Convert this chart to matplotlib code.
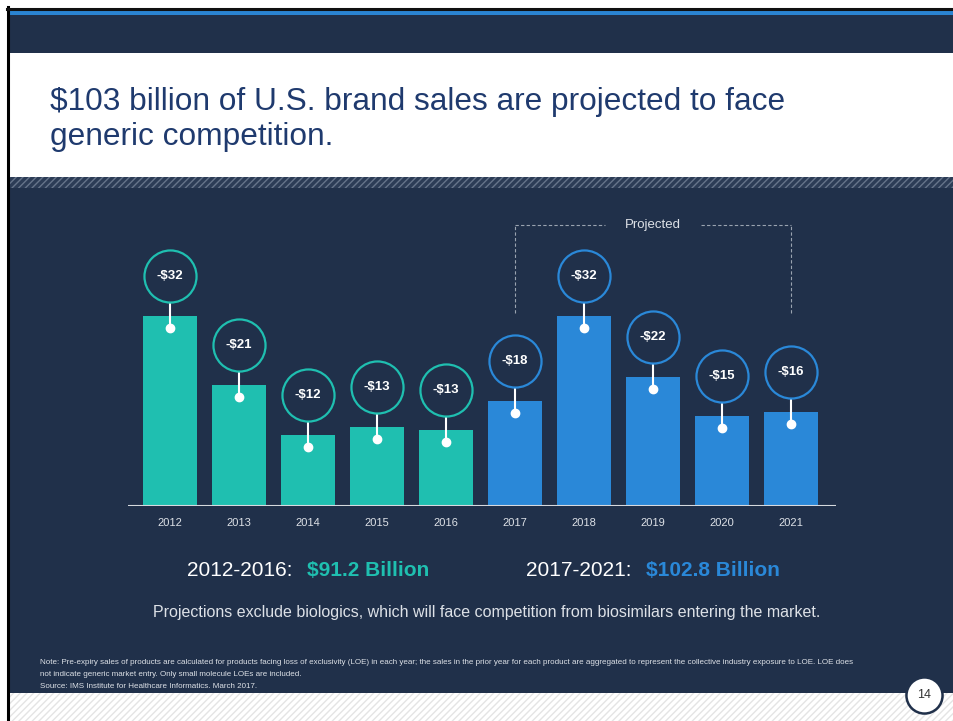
import matplotlib
matplotlib.use('Agg')
import matplotlib.pyplot as plt
from matplotlib.patches import Rectangle
from matplotlib.lines import Line2D

plt.rcParams['font.family'] = ['Liberation Sans', 'DejaVu Sans']
plt.rcParams['text.parse_math'] = False

# data
years = ['2012', '2013', '2014', '2015', '2016', '2017', '2018', '2019', '2020', '2021']
loe_values = [32.2, 20.5, 12.0, 13.4, 12.9, 17.8, 32.2, 21.9, 15.3, 15.9]
bubble_labels = ['-$32', '-$21', '-$12', '-$13', '-$13', '-$18', '-$32', '-$22', '-$15', '-$16']
n_actual = 5  # first five years are actual, rest projected

NAVY = '#20304a'
TEAL = '#1fbfb0'
BLUE = '#2a88d8'
LIGHT = '#dde1e7'

W, H = 954, 721


def fx(px):
    return px / W


def fy(py):
    return 1 - py / H


def band(top, bottom, **kw):
    # background strip of the slide, in pixel rows
    r = Rectangle((fx(8), fy(bottom)), 1 - fx(8), (bottom - top) / H,
                  transform=fig.transFigure, zorder=-10, **kw)
    fig.add_artist(r)


fig = plt.figure(figsize=(9.54, 7.21), dpi=100, facecolor='white')

# slide background blocks
band(693, 721, facecolor='white', edgecolor='#e4e4e4', hatch='/////', lw=0)
band(188, 693, facecolor=NAVY, lw=0)
band(177, 188, facecolor='#2c3c56', edgecolor='#66748a', hatch='/////', lw=0)
band(53, 177, facecolor='white', lw=0)
band(15, 53, facecolor=NAVY, lw=0)
band(10, 15, facecolor='#2a84d2', lw=0)
# black frame lines
fig.add_artist(Line2D([fx(8), fx(8)], [fy(7), 0], transform=fig.transFigure, color='black',
                      lw=2.2, zorder=-5))
fig.add_artist(Line2D([fx(7), 1], [fy(8.5), fy(8.5)], transform=fig.transFigure, color='#111111',
                      lw=2.2, zorder=-5))

# title
fig.text(fx(50), fy(102), '$103 billion of U.S. brand sales are projected to face',
         fontsize=22.8, color='#1f3a6e', ha='left', va='center')
fig.text(fx(50), fy(137), 'generic competition.',
         fontsize=22.8, color='#1f3a6e', ha='left', va='center')

# chart area
ax = fig.add_axes([fx(128), fy(506), fx(836) - fx(128), (506 - 200) / H])
ax.set_facecolor('none')
for s in ax.spines.values():
    s.set_visible(False)
ax.set_xlim(-0.61, 9.65)
ax.set_ylim(0, 51.9)
ax.set_yticks([])

x = list(range(len(years)))
colors = [TEAL if i < n_actual else BLUE for i in x]
ax.bar(x, loe_values, width=0.78, color=colors, zorder=2)
ax.axhline(0, color='#d6d9de', lw=1.5, zorder=3)

ax.set_xticks(x)
ax.set_xticklabels(years, fontsize=8, color=LIGHT)
ax.tick_params(axis='x', length=0, pad=9)

# pixel -> data conversion for callouts
ppu = ax.bbox.height / (ax.get_ylim()[1] - ax.get_ylim()[0])
for i, (v, lab, c) in enumerate(zip(loe_values, bubble_labels, colors)):
    ax.plot([i, i], [v + 14 / ppu, v - 12 / ppu], color='white', lw=1.5, zorder=4)
    ax.plot(i, v - 12 / ppu, 'o', color='white', markersize=6, zorder=5)
    ax.plot(i, v + 40 / ppu, 'o', markersize=37.5, markerfacecolor=NAVY,
            markeredgecolor=c, markeredgewidth=1.6, zorder=4, clip_on=False)
    ax.text(i, v + 40 / ppu, lab, ha='center', va='center', fontsize=9.5,
            fontweight='bold', color='white', zorder=6, clip_on=False)

# projected bracket
br_top = (506 - 225) / ppu
br_bot = (506 - 313) / ppu
dash = dict(color='#9aa3b0', lw=0.8, linestyle=(0, (3, 2)), clip_on=False)
ax.plot([5, 5], [br_bot, br_top], **dash)
ax.plot([9, 9], [br_bot, br_top], **dash)
ax.plot([5, 6.3], [br_top, br_top], **dash)
ax.plot([7.7, 9], [br_top, br_top], **dash)
ax.text(7.0, br_top, 'Projected', ha='center', va='center', fontsize=9.5, color=LIGHT,
        clip_on=False)

# totals
fig.text(fx(187), fy(570), '2012-2016:', fontsize=15, color='white', ha='left', va='center')
fig.text(fx(307), fy(570), '$91.2 Billion', fontsize=15, color=TEAL, fontweight='bold',
         ha='left', va='center')
fig.text(fx(526), fy(570), '2017-2021:', fontsize=15, color='white', ha='left', va='center')
fig.text(fx(646), fy(570), '$102.8 Billion', fontsize=15, color=BLUE, fontweight='bold',
         ha='left', va='center')

fig.text(fx(487), fy(613),
         'Projections exclude biologics, which will face competition from biosimilars entering the market.',
         fontsize=11.5, color=LIGHT, ha='center', va='center')

# footnote
note = ('Note: Pre-expiry sales of products are calculated for products facing loss of exclusivity (LOE) '
        'in each year; the sales in the prior year for each product are aggregated to represent the '
        'collective industry exposure to LOE. LOE does\n'
        'not indicate generic market entry. Only small molecule LOEs are included.\n'
        'Source: IMS Institute for Healthcare Informatics. March 2017.')
fig.text(fx(40), fy(659), note, fontsize=5.75, color=LIGHT, ha='left', va='top', linespacing=1.95)

# page number
fig.add_artist(Line2D([fx(924)], [fy(695)], transform=fig.transFigure, marker='o',
                      markersize=26, markerfacecolor='white', markeredgecolor=NAVY,
                      markeredgewidth=1.8))
fig.text(fx(924), fy(695), '14', fontsize=9, color='#333333', ha='center', va='center')

fig.savefig('out.png', dpi=100, facecolor='white')
